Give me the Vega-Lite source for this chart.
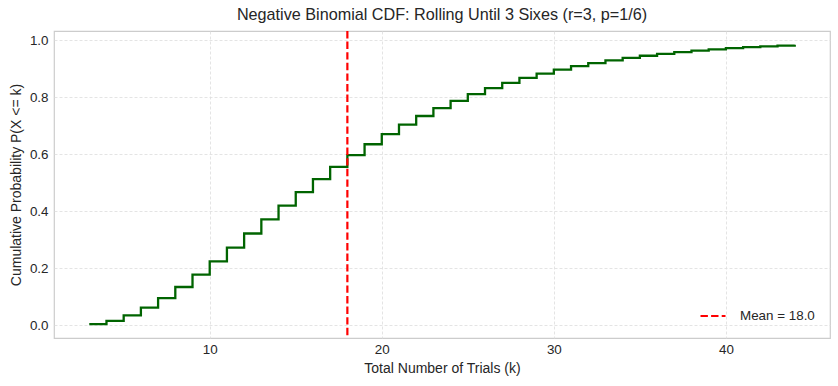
{
  "$schema": "https://vega.github.io/schema/vega-lite/v6.json",
  "width": 776,
  "height": 307,
  "autosize": {"type": "none"},
  "padding": {"left": 54, "top": 31, "right": 8, "bottom": 48},
  "background": "white",
  "title": {
    "text": "Negative Binomial CDF: Rolling Until 3 Sixes (r=3, p=1/6)",
    "font": "Liberation Sans",
    "fontSize": 16.2,
    "fontWeight": "normal",
    "color": "#262626",
    "anchor": "middle",
    "offset": 7
  },
  "config": {
    "view": {"stroke": "#cccccc", "strokeWidth": 1.2},
    "axis": {
      "labelFont": "Liberation Sans",
      "titleFont": "Liberation Sans",
      "labelFontSize": 13.4,
      "titleFontSize": 14,
      "labelColor": "#262626",
      "titleColor": "#262626",
      "titleFontWeight": "normal",
      "domain": false,
      "ticks": false,
      "gridColor": "#dddddd",
      "gridDash": [3, 2],
      "gridWidth": 0.8
    }
  },
  "datasets": {
    "cdf": [
      {"k": 3, "cdf": 0.00463}, {"k": 4, "cdf": 0.01620}, {"k": 5, "cdf": 0.03549},
      {"k": 6, "cdf": 0.06229}, {"k": 7, "cdf": 0.09578}, {"k": 8, "cdf": 0.13485},
      {"k": 9, "cdf": 0.17826}, {"k": 10, "cdf": 0.22477}, {"k": 11, "cdf": 0.27322},
      {"k": 12, "cdf": 0.32257}, {"k": 13, "cdf": 0.37192}, {"k": 14, "cdf": 0.42052},
      {"k": 15, "cdf": 0.46777}, {"k": 16, "cdf": 0.51321}, {"k": 17, "cdf": 0.55648},
      {"k": 18, "cdf": 0.59735}, {"k": 19, "cdf": 0.63566}, {"k": 20, "cdf": 0.67134},
      {"k": 21, "cdf": 0.70438}, {"k": 22, "cdf": 0.73481}, {"k": 23, "cdf": 0.76271},
      {"k": 24, "cdf": 0.78817}, {"k": 25, "cdf": 0.81131}, {"k": 26, "cdf": 0.83228},
      {"k": 27, "cdf": 0.85120}, {"k": 28, "cdf": 0.86825}, {"k": 29, "cdf": 0.88352},
      {"k": 30, "cdf": 0.89721}, {"k": 31, "cdf": 0.90943}, {"k": 32, "cdf": 0.92031},
      {"k": 33, "cdf": 0.92998}, {"k": 34, "cdf": 0.93856}, {"k": 35, "cdf": 0.94616},
      {"k": 36, "cdf": 0.95288}, {"k": 37, "cdf": 0.95880}, {"k": 38, "cdf": 0.96402},
      {"k": 39, "cdf": 0.96861}, {"k": 40, "cdf": 0.97265}, {"k": 41, "cdf": 0.97619},
      {"k": 42, "cdf": 0.97929}, {"k": 43, "cdf": 0.98200}, {"k": 44, "cdf": 0.98437}
    ],
    "mean": [{"mean": 18, "label": "Mean = 18.0"}]
  },
  "layer": [
    {
      "data": {"name": "cdf"},
      "mark": {"type": "line", "interpolate": "step-after", "color": "#006400", "strokeWidth": 2.3, "clip": true},
      "encoding": {
        "x": {
          "field": "k", "type": "quantitative",
          "scale": {"domain": [0.95, 46.05], "nice": false, "zero": false},
          "axis": {"values": [10, 20, 30, 40], "title": "Total Number of Trials (k)", "labelPadding": 4, "titlePadding": 6}
        },
        "y": {
          "field": "cdf", "type": "quantitative",
          "scale": {"domain": [-0.044, 1.033], "nice": false, "zero": false},
          "axis": {"values": [0, 0.2, 0.4, 0.6, 0.8, 1.0], "format": ".1f", "title": "Cumulative Probability P(X <= k)", "labelPadding": 6, "titlePadding": 6}
        }
      }
    },
    {
      "data": {"name": "mean"},
      "mark": {"type": "rule", "strokeWidth": 2.2, "strokeDash": [7.4, 3.2]},
      "encoding": {
        "x": {"field": "mean", "type": "quantitative"},
        "color": {
          "field": "label", "type": "nominal",
          "scale": {"range": ["#ff0000"]},
          "legend": {
            "title": null,
            "orient": "bottom-right",
            "offset": 15,
            "padding": 0,
            "symbolType": "stroke",
            "symbolStrokeWidth": 2.2,
            "symbolDash": [7.4, 3.2],
            "symbolSize": 625,
            "labelFont": "Liberation Sans",
            "labelFontSize": 13.4,
            "labelColor": "#262626",
            "labelOffset": 13
          }
        }
      }
    }
  ]
}
